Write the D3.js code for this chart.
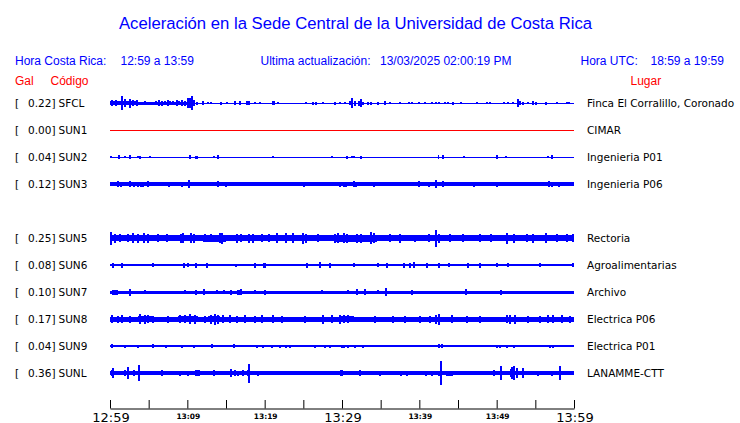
<!DOCTYPE html>
<html><head><meta charset="utf-8">
<script src="https://cdn.jsdelivr.net/npm/d3@7"></script>
<style>
html,body{margin:0;padding:0;background:#fff;}
svg{display:block;}
</style></head>
<body>
<svg id="chart" width="740" height="423"></svg>
<script>
// ---------- data ----------
const codes = ["SFCL","SUN1","SUN2","SUN3","SUN4","SUN5","SUN6","SUN7","SUN8","SUN9","SUNL"];
const gals  = [0.22, 0.00, 0.04, 0.12, null, 0.25, 0.08, 0.10, 0.17, 0.04, 0.36];
const sites = ["Finca El Corralillo, Coronado","CIMAR","Ingenieria P01","Ingenieria P06",null,
               "Rectoria","Agroalimentarias","Archivo","Electrica P06","Electrica P01","LANAMME-CTT"];

const titleText = "Aceleración en la Sede Central de la Universidad de Costa Rica";
const localRange = "12:59 a 13:59";
const utcRange = "18:59 a 19:59";
const updated = "13/03/2025 02:00:19 PM";

const tickMinutes = [0,5,10,15,20,25,30,35,40,45,50,55,60];
const labelMinutes = [0,10,20,30,40,50,60];
const tickLabels = ["12:59","13:09","13:19","13:29","13:39","13:49","13:59"];
const majorLabels = ["12:59","13:29","13:59"];

// trace envelopes: bands [startMin, endMin, halfAmp], spikes [min, halfAmp]
const sfclBands = [[0,60,0.5],[0,3.6,2],[3.6,11,1.5],[20.9,21.4,2]];
const sfclSpikes = [[0.2,3],[0.8,3],[1.1,2],[1.5,7],[1.9,4],[2.2,2],[2.6,4.5],[3.0,3],[3.45,3],[4.0,1],[4.5,2],
 [5.4,1],[5.9,2],[6.3,3],[6.7,2.5],[7.1,2],[7.5,3],[7.8,2],[8.2,2],[8.6,3],[8.9,2],[9.3,3],[9.7,2.5],[10.05,5],
 [10.35,5],[10.65,7],[10.9,3],[11.3,1.5],[12.0,2],[12.7,1],[13.1,1],[14.4,1.5],[15.1,1],[16.2,2],[16.8,2],[17.7,2],
 [18.0,2],[18.75,1],[19.4,1],[21.7,1],[25.4,1],[26.3,1.5],[26.6,1.5],[27.6,1],[29.1,1.5],[29.7,1],[30.4,1],[31.0,2],
 [31.3,5],[31.7,2.5],[32.2,2.5],[32.4,4],[32.75,1.5],[33.4,1.5],[33.8,1.5],[34.7,1.5],[35.6,2],[36.2,1],[37.5,1],
 [38.6,1],[39.1,1],[40.0,1],[40.7,0.8],[41.6,1],[42.2,1],[42.6,1],[43.3,1],[43.75,1],[44.3,1.5],[45.35,1],[47.5,1],
 [48.7,1],[49.2,1],[50.9,1],[51.5,1],[52.15,1],[52.7,4],[53.0,2],[53.4,1.5],[54.1,1],[54.75,2],[55.1,1.5],[56.4,1.5],
 [57.85,1],[59.1,1],[59.4,1]];
const sun1Bands = [[0,60,0.5]];
const sun1Spikes = [];
const sun2Bands = [[0,60,0.5],[1.0,1.25,2],[13.9,14.1,2],[42.4,42.6,2]];
const sun2Spikes = [[0.13,1],[2.0,1],[2.6,2],[3.6,1],[3.9,1.5],[5.2,1],[10.35,2],[11.1,1.5],[11.3,1.5],[13.4,1],
 [21.1,1],[28.7,1],[30.6,1.5],[31.3,1],[31.55,1],[32.4,1.5],[43.0,2],[45.8,1],[50.1,2],[51.2,1],[56.7,1],[57.1,2]];
const sun3Bands = [[0,60,1.7],[13.9,14.1,3],[53,60,2]];
const sun3Spikes = [[1.07,3],[1.42,2.5],[2.54,3],[3.15,2.5],[3.66,2.5],[4.0,2.5],[4.3,2.5],[4.96,3],[7.67,2.5],
 [9.27,2.5],[10.26,4],[14.96,2.5],[25.1,2.5],[29.74,2.5],[30.2,2.5],[30.5,2.5],[31.5,3],[31.8,2.5],[34.2,2.5],
 [40.0,3],[41.3,2.5],[42.2,4],[43.0,3],[47.1,2.5],[50.1,2.5],[56.8,3],[57.2,2.5],[58.1,2.5]];
const sun5Bands = [[0,60,3],[29,34.5,3.5],[12,15,3.5]];
const sun5Spikes = [[0,6.5],[0.65,4.5],[1.29,4],[2.37,4],[3.02,5],[3.66,4.5],[4.44,5],[4.96,4.5],[6.25,4],[7.33,4],
 [9.18,4.5],[9.48,5],[10.47,5],[10.9,4.5],[12.3,4],[13.06,4],[14.2,5],[14.44,5.5],[16.4,4.5],[17.0,4],[17.98,4.5],
 [18.5,4.5],[19.6,4],[20.5,4],[21.55,5],[22.8,5],[23.7,5],[25.0,5.5],[25.4,4.5],[26.9,4],[29.1,4.5],[29.5,5],
 [30.2,5],[30.6,4.5],[31.9,4.5],[32.5,4.5],[33.7,6],[34.1,5],[36.2,4],[37.5,4.5],[39.4,3.5],[41.2,4],[42.1,8.5],
 [42.5,4.5],[44.0,4],[45.7,4],[47.8,4],[49.3,4],[51.3,5.5],[52.2,4.5],[53.9,4],[54.7,4.5],[56.4,5],[57.8,4],
 [59.1,4],[59.9,4]];
const sun6Bands = [[0,60,1.4],[0.22,0.56,2.5],[19.8,20.2,2.5]];
const sun6Spikes = [[1.6,2.5],[5.6,2],[9.6,2.5],[10.1,2],[11.1,2.5],[12.6,2.5],[16.3,1.5],[18.7,2.5],[25.5,2.5],
 [27.2,3],[28.5,2.5],[31.5,2],[34.7,2],[35.8,2.5],[38.0,2.5],[38.8,2.5],[39.3,3],[41.0,2.5],[42.6,2.5],[43.8,2],
 [46.3,2.5],[47.8,2.5],[50.0,2],[51.5,2],[55.6,2],[59.9,2]];
const sun7Bands = [[0,60,1.5],[0.22,1.08,2.5],[16.4,17.0,2.5],[11.0,11.2,2.5]];
const sun7Spikes = [[2.6,3.5],[4.5,2],[9.7,2],[11.1,2.5],[12.2,3],[13.8,2],[14.7,2],[15.7,2.5],[17.0,3],[18.75,2],
 [20.0,2.5],[22.1,1.5],[27.4,2],[30.8,2],[31.9,3],[33.0,3],[34.7,2],[35.7,4],[39.0,2.5],[40.3,1.5],[46.0,3],
 [50.6,2.5],[53.9,1.5],[58.4,1.5]];
const sun8Bands = [[0,60,2.5],[3.6,5.4,3],[8.8,11.4,3],[12.7,14.2,3.2],[29.7,31.5,3]];
const sun8Spikes = [[0.22,4],[1.08,3.5],[1.51,4],[2.59,3.5],[3.88,5],[4.53,4.5],[4.96,4],[5.6,3.5],[7.54,3.5],
 [9.05,4],[9.7,4],[10.35,5],[11.0,4.5],[12.3,3.5],[13.06,4.5],[13.58,5.5],[14.0,4.5],[14.65,4],[15.5,4],[16.4,3.5],
 [17.45,4],[18.75,3.5],[19.6,4],[21.1,4],[22.2,3.5],[25.2,3.5],[27.6,4.5],[28.7,4],[29.7,4.5],[30.2,4],[30.8,4],
 [34.3,3.5],[36.6,3.5],[38.1,3.5],[40.1,3.5],[41.4,3.5],[42.2,4.5],[42.5,5.5],[44.2,4],[46.1,3.5],[47.8,3.5],
 [51.3,4],[51.7,4.5],[52.4,4.5],[54.1,3.5],[55.6,3.5],[56.7,4],[57.3,4],[58.4,4],[59.5,3.5]];
const sun9Bands = [[0,60,0.6],[0,18,1.3],[19,20.2,1.3],[20.9,23.4,1.2],[26.3,28.6,1.2],[29.7,32.9,1.3]];
const sun9Spikes = [[0.22,2],[1.94,1.5],[3.66,1.5],[5.6,1.8],[7.3,1.5],[9.3,1.5],[10.8,1.5],[13.2,1.8],[16.0,1.8],
 [19.0,1.5],[19.8,1.5],[20.9,1.5],[22.0,1.5],[22.8,1.5],[23.3,1.5],[26.5,1.5],[27.8,1.5],[28.4,1.5],[30.0,1.5],
 [30.2,1.5],[30.8,1.5],[31.7,1.5],[32.7,1.5],[33.8,1.2],[35.1,1],[36.2,1],[37.1,1],[40.1,1],[41.2,1],[42.5,2],
 [42.9,2],[43.75,1.2],[46.1,1.2],[47.0,1.2],[48.3,1],[50.0,1.5],[50.4,1.5],[51.3,1.5],[52.2,1.5],[53.0,1.2],
 [54.7,1],[56.9,1.5],[57.3,1.5],[58.2,1.2],[59.0,1.2],[59.9,1.2]];
const sunlBands = [[0,60,1.8],[11.0,11.6,3],[43.5,44.4,2.5]];
const sunlSpikes = [[0.22,3],[0.39,5],[1.94,3],[2.37,6],[3.15,3],[3.75,8],[5.8,2],[6.77,3],[9.05,2.5],[10.1,2.5],
 [13.4,3],[14.7,2],[15.65,4],[16.1,3],[16.5,2.5],[17.2,3],[17.9,3],[18.0,9.5],[19.1,2.5],[22.0,2],[25.2,2],[27.2,2],
 [27.8,2],[28.8,2],[29.9,3],[29.96,3],[30.4,2],[32.3,3],[34.9,2.5],[37.6,2.5],[38.4,2.5],[40.8,2.5],[41.6,2.5],
 [42.6,2.5],[42.85,12],[45.9,2],[49.6,3],[50.6,7],[51.9,4],[52.0,6],[52.2,7],[52.6,5],[53.4,5],[55.4,2.5],
 [57.1,2.5],[58.2,7],[59.9,2]];

const traceBands  = [sfclBands, sun1Bands, sun2Bands, sun3Bands, null, sun5Bands, sun6Bands, sun7Bands, sun8Bands, sun9Bands, sunlBands];
const traceSpikes = [sfclSpikes, sun1Spikes, sun2Spikes, sun3Spikes, null, sun5Spikes, sun6Spikes, sun7Spikes, sun8Spikes, sun9Spikes, sunlSpikes];

// ---------- drawing ----------
const svg = d3.select("#chart");
const blue = "#0000ff", red = "#ff0000";
const sans = "'Liberation Sans', Arial, Helvetica, sans-serif";
const dejavu = "'DejaVu Sans', Verdana, sans-serif";

const t0 = new Date(2025, 2, 13, 12, 59);
const toDate = m => new Date(t0.getTime() + m * 60000);
const x = d3.scaleTime().domain([t0, toDate(60)]).range([110, 574]);
const y = d3.scaleBand().domain(codes).range([89.5, 386.5]).padding(0);
const amp = d3.scaleLinear().domain([0, y.bandwidth() / 2]).range([0, y.bandwidth() / 2]);

// Title
svg.append("text").attr("x", 355.5).attr("y", 29).attr("text-anchor", "middle")
  .style("font-family", sans).style("font-size", "16.7px").attr("fill", blue).text(titleText);

// Header line
const hdr = [[15, "Hora Costa Rica:"], [120.5, localRange], [260.5, "Ultima actualización:"],
             [380, updated], [580.5, "Hora UTC:"], [650.5, utcRange]];
svg.append("g").selectAll("text").data(hdr).join("text")
  .attr("x", d => d[0]).attr("y", 65)
  .style("font-family", sans).style("font-size", "12px").attr("fill", blue).text(d => d[1]);

const sub = [[15, "Gal"], [50.5, "Código"], [630.5, "Lugar"]];
svg.append("g").selectAll("text").data(sub).join("text")
  .attr("x", d => d[0]).attr("y", 84.5)
  .style("font-family", sans).style("font-size", "12px").attr("fill", red).text(d => d[1]);

const fmt = d3.format(".2f");
const rows = codes.map((c, i) => ({ code: c, gal: gals[i], site: sites[i], bands: traceBands[i], spikes: traceSpikes[i] }))
  .filter(d => d.gal !== null);

const rowG = svg.append("g").selectAll("g").data(rows).join("g")
  .attr("transform", d => `translate(0,${y(d.code) + y.bandwidth() / 2})`);

const lab = rowG.append("g").style("font-family", dejavu).style("font-size", "10.5px").attr("fill", "#000");
lab.append("text").attr("x", 15).attr("y", 3.8).text("[");
lab.append("text").attr("x", 55.5).attr("y", 3.8).attr("text-anchor", "end").text(d => fmt(d.gal) + "]");
lab.append("text").attr("x", 58.5).attr("y", 3.8).text(d => d.code);
lab.append("text").attr("x", 587).attr("y", 3.8).text(d => d.site);

// traces
const traces = rowG.append("g").attr("shape-rendering", "crispEdges");
traces.each(function(d) {
  const g = d3.select(this);
  const col = d.gal === 0 ? red : blue;
  g.selectAll("rect.band").data(d.bands).join("rect").attr("class", "band")
    .attr("x", b => x(toDate(b[0])))
    .attr("width", b => Math.max(1, x(toDate(b[1])) - x(toDate(b[0]))))
    .attr("y", b => -amp(b[2]))
    .attr("height", b => Math.max(1, 2 * amp(b[2])))
    .attr("fill", col);
  g.selectAll("rect.spk").data(d.spikes).join("rect").attr("class", "spk")
    .attr("x", s => Math.min(572, Math.max(110, x(toDate(s[0])) - 1)))
    .attr("width", 2)
    .attr("y", s => -amp(s[1]))
    .attr("height", s => 2 * amp(s[1]))
    .attr("fill", col);
});

// axis
const axis = d3.axisBottom(x).tickValues(tickMinutes.map(toDate)).tickSize(-8.5).tickSizeOuter(0).tickFormat("");
const ax = svg.append("g").attr("transform", "translate(0,408.5)").call(axis);
ax.selectAll("path,line").attr("stroke", "#000");

svg.append("g").selectAll("text").data(labelMinutes).join("text")
  .attr("x", (m) => x(toDate(m)) + 1)
  .attr("y", (m, i) => majorLabels.includes(tickLabels[i]) ? 421.5 : 418.5)
  .attr("text-anchor", "middle")
  .style("font-family", dejavu)
  .style("font-size", (m, i) => majorLabels.includes(tickLabels[i]) ? "13px" : "7.5px")
  .style("font-weight", (m, i) => majorLabels.includes(tickLabels[i]) ? "normal" : "bold")
  .attr("fill", "#000")
  .text((m, i) => tickLabels[i]);
</script>
</body></html>
